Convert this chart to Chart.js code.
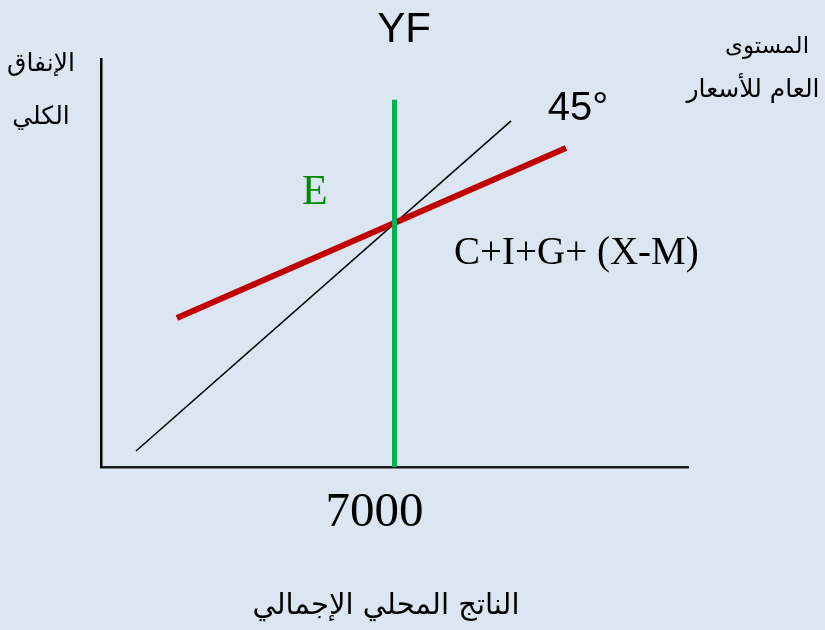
<!DOCTYPE html>
<html>
<head>
<meta charset="utf-8">
<script src="https://cdn.jsdelivr.net/npm/chart.js@4/dist/chart.umd.min.js"></script>
<style>
  html,body{margin:0;padding:0;background:#dce6f2;}
  #c{display:block;}
</style>
</head>
<body>
<canvas id="c" width="825" height="630"></canvas>
<script>
// axis ranges (output on x, spending on y)
const X_MAX = 14000;
const Y_MAX = 12000;
const xTicks = [7000];

// 45 degree line
const line45X = [835, 9780];
const line45Y = [470, 10180];

// aggregate expenditure C+I+G+(X-M)
const aeX = [1810, 11090];
const aeY = [4380, 9380];

// full-employment output YF
const yfX = [7000, 7000];
const yfY = [0, 10800];

function pts(xs, ys){ return xs.map((x,i)=>({x, y: ys[i]})); }

const labels = {
  title: 'YF',
  deg: '45°',
  eq: 'E',
  ae: 'C+I+G+ (X-M)',
  yAxis: ['الإنفاق', 'الكلي'],
  price: ['المستوى', 'العام للأسعار'],
  xAxis: 'الناتج المحلي الإجمالي'
};

const serif = '"Liberation Serif", "Times New Roman", serif';
const sans = '"Liberation Sans", Arial, sans-serif';
const arabic = '"DejaVu Sans", sans-serif';

const textPlugin = {
  id: 'texts',
  afterDraw(chart){
    const ctx = chart.ctx;
    const xs = chart.scales.x;
    ctx.save();
    ctx.textBaseline = 'alphabetic';
    ctx.textAlign = 'center';
    ctx.fillStyle = '#000';
    // tick label under the YF line
    ctx.font = '49px ' + serif;
    xTicks.forEach(v => ctx.fillText(String(v), xs.getPixelForValue(v) - 20, 526));
    ctx.font = '42px ' + sans;
    ctx.fillText(labels.title, 404, 42);
    ctx.font = '40px ' + sans;
    ctx.fillText(labels.deg, 578, 120);
    ctx.font = '39px ' + serif;
    ctx.textAlign = 'left';
    ctx.fillText(labels.ae, 454, 264);
    ctx.fillStyle = '#008a00';
    ctx.font = '42px ' + serif;
    ctx.fillText(labels.eq, 302, 204);
    // arabic labels
    ctx.fillStyle = '#000';
    ctx.textAlign = 'center';
    ctx.direction = 'rtl';
    ctx.font = '25px ' + arabic;
    ctx.fillText(labels.yAxis[0], 41, 71);
    ctx.fillText(labels.yAxis[1], 41, 124);
    ctx.font = '23px ' + arabic;
    ctx.fillText(labels.price[0], 767, 53);
    ctx.font = '25px ' + arabic;
    ctx.fillText(labels.price[1], 753, 97);
    ctx.font = '29px ' + arabic;
    ctx.fillText(labels.xAxis, 386, 614);
    ctx.restore();
  }
};

new Chart(document.getElementById('c'), {
  type: 'scatter',
  data: {
    datasets: [
      {label:'45', data: pts(line45X, line45Y), showLine:true, borderColor:'#000', borderWidth:1.6, pointRadius:0, order:3},
      {label:'AE', data: pts(aeX, aeY), showLine:true, borderColor:'#c00000', borderWidth:6, pointRadius:0, order:2, borderCapStyle:'butt'},
      {label:'YF', data: pts(yfX, yfY), showLine:true, borderColor:'#00b050', borderWidth:5, pointRadius:0, order:1}
    ]
  },
  options: {
    responsive: false,
    animation: false,
    events: [],
    layout: {padding: {left: 101, right: 137, top: 59, bottom: 163}},
    plugins: {legend: {display:false}, tooltip: {enabled:false}},
    scales: {
      x: {
        type: 'linear', min: 0, max: X_MAX,
        grid: {display:false},
        border: {display:true, color:'#1a1a1a', width:2.5},
        ticks: {display:false},
        afterFit: s => { s.height = 0; }
      },
      y: {
        type: 'linear', min: 0, max: Y_MAX,
        grid: {display:false},
        border: {display:true, color:'#000', width:2.5},
        ticks: {display:false},
        afterFit: s => { s.width = 0; }
      }
    }
  },
  plugins: [textPlugin]
});
</script>
</body>
</html>
